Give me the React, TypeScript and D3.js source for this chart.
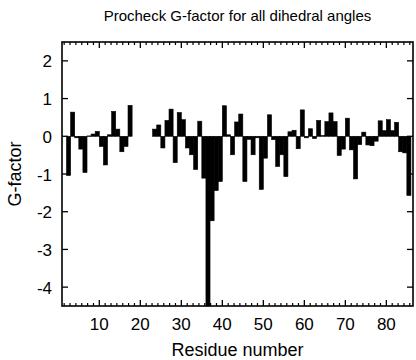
import React from "react";
import * as d3 from "d3";

const residues = [
  2, 3, 4, 5, 6, 7, 8, 9, 10, 11, 12, 13, 14, 15, 16, 17,
  23, 24, 25, 26, 27, 28, 29, 30, 31, 32, 33, 34, 35, 36, 37, 38, 39, 40,
  41, 42, 43, 44, 45, 46, 47, 48, 49, 50, 51, 52, 53, 54, 55, 56, 57, 58,
  59, 60, 61, 62, 63, 64, 65, 66, 67, 68, 69, 70, 71, 72, 73, 74, 75, 76,
  77, 78, 79, 80, 81, 82, 83, 84, 85,
];
const gFactor = [
  -1.04, 0.64, -0.04, -0.34, -0.96, 0.01, 0.06, 0.13, -0.27, -0.76, 0.04, 0.66, 0.19, -0.41, -0.27, 0.82,
  0.19, 0.3, -0.31, 0.42, 0.72, -0.7, 0.63, 0.44, -0.31, -0.49, -0.88, 0.4, -1.11, -4.55, -2.24, -1.44, -1.2, 0.81,
  0.04, -0.49, 0.38, 0.59, -1.2, -0.08, -0.49, -0.04, -1.41, -0.58, 0.57, -0.09, -0.8, -0.49, -1.07, 0.12, 0.16, -0.33,
  0.7, -0.04, 0.2, -0.06, 0.42, 0.02, 0.39, 0.62, 0.39, -0.51, -0.34, 0.48, -0.36, -1.13, -0.22, 0.11, -0.23, -0.25,
  -0.13, 0.41, 0.15, 0.44, 0.15, 0.37, -0.41, -0.44, -1.57,
];
const xTicks = [10, 20, 30, 40, 50, 60, 70, 80];
const yTicks = [-4, -3, -2, -1, 0, 1, 2];

const title = "Procheck G-factor for all dihedral angles";
const xTitle = "Residue number";
const yTitle = "G-factor";

export default function App() {
  const W = 416, H = 360;
  const L = 62, R = 413, T = 42, B = 306;
  const x = d3.scaleLinear().domain([0.9, 86.5]).range([L, R]);
  const y = d3.scaleLinear().domain([-4.5, 2.5]).range([B, T]);
  const font = "'Liberation Sans', Arial, Helvetica, sans-serif";

  const minor: number[] = [];
  const step = 10 / 7;
  for (let i = -7; i < 60; i++) {
    const v = 10 + i * step;
    if (v <= 0.9 + 0.3 || v >= 86.5 - 0.2) continue;
    if (Math.abs(v / 10 - Math.round(v / 10)) < 1e-6) continue;
    minor.push(v);
  }

  const clampY = (v: number) => Math.max(-4.5, Math.min(2.5, v));

  return (
    <svg width={W} height={H} style={{ position: "absolute", left: 0, top: 0, background: "#fff" }} fontFamily={font}>
      <rect x={0} y={0} width={W} height={H} fill="#fff" />
      <text x={(L + R) / 2} y={21} textAnchor="middle" fontSize={15} fill="#000">{title}</text>
      {residues.map((r, i) => {
        const v = clampY(gFactor[i]);
        const y0 = y(0), y1 = y(v);
        return (
          <rect
            key={r}
            x={x(r)}
            width={x(r + 1) - x(r)}
            y={Math.min(y0, y1)}
            height={Math.max(0.5, Math.abs(y1 - y0))}
            fill="#000"
            stroke="#000"
            strokeWidth={0.6}
          />
        );
      })}
      <rect x={L} y={T} width={R - L} height={B - T} fill="none" stroke="#000" strokeWidth={1.6} />
      {yTicks.map((t) => (
        <g key={"y" + t}>
          <line x1={L} x2={L + 6} y1={y(t)} y2={y(t)} stroke="#000" strokeWidth={1.3} />
          <line x1={R} x2={R - 6} y1={y(t)} y2={y(t)} stroke="#000" strokeWidth={1.3} />
          <text x={52} y={y(t) + 6.5} textAnchor="end" fontSize={17} fill="#000">{t}</text>
        </g>
      ))}
      {xTicks.map((t) => (
        <g key={"x" + t}>
          <line x1={x(t)} x2={x(t)} y1={B} y2={B - 6} stroke="#000" strokeWidth={1.3} />
          <line x1={x(t)} x2={x(t)} y1={T} y2={T + 6} stroke="#000" strokeWidth={1.3} />
          <text x={x(t)} y={330} textAnchor="middle" fontSize={17} fill="#000">{t}</text>
        </g>
      ))}
      {minor.map((t, i) => (
        <g key={"m" + i}>
          <line x1={x(t)} x2={x(t)} y1={B} y2={B - 3} stroke="#000" strokeWidth={1.2} />
          <line x1={x(t)} x2={x(t)} y1={T} y2={T + 3} stroke="#000" strokeWidth={1.2} />
        </g>
      ))}
      <text x={(L + R) / 2} y={356} textAnchor="middle" fontSize={18} fill="#000">{xTitle}</text>
      <text
        transform={`translate(21, ${(T + B) / 2}) rotate(-90)`}
        textAnchor="middle"
        fontSize={18}
        fill="#000"
      >{yTitle}</text>
    </svg>
  );
}
